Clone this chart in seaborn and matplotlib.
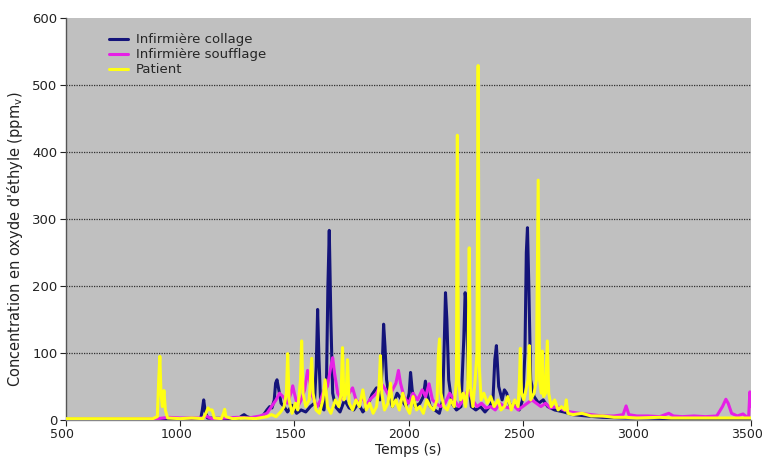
import matplotlib
matplotlib.use("Agg")
import matplotlib.pyplot as plt
import matplotlib.transforms as mtransforms
import seaborn as sns
import pandas as pd

# ---------------- data ----------------
collage_t = [500, 880, 1000, 1090, 1097, 1103, 1110, 1120, 1200, 1255, 1270, 1280, 1292, 1320, 1360, 1380,
             1392, 1402, 1412, 1418, 1424, 1432, 1442, 1455, 1470, 1490, 1510, 1530, 1550, 1570, 1588, 1596,
             1602, 1608, 1616, 1630, 1641, 1647, 1653, 1660, 1668, 1680, 1700, 1720, 1740, 1760, 1780, 1800,
             1820, 1840, 1860, 1875, 1885, 1891, 1897, 1904, 1915, 1930, 1950, 1970, 1990, 2003, 2009, 2016,
             2030, 2050, 2065, 2074, 2082, 2095, 2115, 2135, 2150, 2157, 2162, 2168, 2176, 2190, 2210, 2230,
             2242, 2248, 2254, 2262, 2275, 2295, 2315, 2335, 2355, 2370, 2378, 2385, 2395, 2410, 2420, 2430,
             2445, 2465, 2485, 2500, 2510, 2516, 2521, 2527, 2535, 2550, 2570, 2590, 2610, 2640, 2680, 2720,
             2780, 2850, 2950, 3050, 3150, 3250, 3350, 3450, 3500]
collage_v = [1, 1, 1, 2, 15, 30, 12, 3, 2, 2, 6, 8, 5, 2, 5, 15,
             20, 18, 30, 55, 60, 45, 25, 20, 12, 22, 10, 15, 12, 20, 25, 80,
             165, 90, 20, 15, 60, 200, 283, 150, 40, 20, 12, 30, 18, 15, 25, 12,
             20, 38, 48, 30, 80, 143, 110, 60, 35, 20, 40, 30, 20, 40, 71, 45,
             20, 25, 35, 58, 40, 20, 15, 10, 30, 120, 190, 150, 60, 25, 15, 20,
             120, 190, 170, 60, 20, 15, 20, 12, 20, 30, 90, 111, 50, 30, 45, 40,
             20, 25, 15, 30, 100, 250, 287, 200, 60, 35, 25, 30, 20, 15, 12, 8,
             6, 4, 3, 3, 2, 2, 1, 1, 1]

soufflage_t = [500, 900, 950, 1000, 1100, 1115, 1125, 1140, 1200, 1250, 1300, 1350, 1380, 1400, 1420, 1435,
               1450, 1470, 1485, 1493, 1500, 1515, 1530, 1545, 1558, 1566, 1580, 1600, 1615, 1630, 1645, 1660,
               1668, 1676, 1690, 1705, 1720, 1740, 1755, 1770, 1785, 1800, 1815, 1830, 1845, 1860, 1880, 1900,
               1915, 1930, 1945, 1956, 1965, 1980, 2000, 2020, 2040, 2060, 2075, 2090, 2105, 2120, 2140, 2160,
               2180, 2200, 2220, 2240, 2260, 2280, 2300, 2320, 2340, 2360, 2380, 2400, 2420, 2440, 2460, 2480,
               2500, 2520, 2540, 2560, 2580, 2600, 2620, 2650, 2680, 2710, 2750, 2800, 2850, 2900, 2940, 2953,
               2965, 3000, 3050, 3100, 3140, 3160, 3200, 3250, 3300, 3350, 3375, 3390, 3400, 3415, 3440, 3465,
               3480, 3490, 3495, 3500]
soufflage_v = [1, 2, 4, 3, 3, 6, 4, 2, 3, 4, 3, 6, 10, 20, 30, 40,
               35, 25, 40, 51, 40, 20, 30, 45, 74, 60, 35, 20, 30, 45, 50, 80,
               93, 70, 40, 30, 45, 40, 48, 30, 25, 35, 20, 30, 35, 40, 55, 45,
               35, 45, 55, 74, 55, 35, 25, 40, 30, 45, 35, 54, 30, 25, 20, 25,
               40, 30, 20, 30, 45, 30, 20, 25, 18, 20, 15, 25, 20, 18, 22, 15,
               20, 25, 30, 25, 20, 25, 18, 20, 15, 12, 10, 8, 6, 6, 8, 21,
               8, 6, 6, 5, 10, 6, 5, 6, 5, 6, 20, 31, 25, 10, 6, 9,
               5, 6, 42, 20]

patient_t = [500, 880, 900, 906, 911, 916, 922, 929, 935, 945, 1000, 1050, 1100, 1115, 1122, 1130,
             1140, 1150, 1180, 1190, 1195, 1200, 1230, 1280, 1330, 1380, 1400, 1420, 1440, 1455, 1465, 1471,
             1477, 1490, 1505, 1515, 1527, 1532, 1538, 1550, 1565, 1576, 1582, 1595, 1610, 1625, 1635, 1645,
             1660, 1680, 1695, 1705, 1711, 1717, 1727, 1733, 1740, 1755, 1770, 1785, 1800, 1815, 1830, 1845,
             1860, 1871, 1877, 1883, 1895, 1910, 1921, 1930, 1945, 1960, 1975, 1990, 2005, 2020, 2035, 2050,
             2065, 2080, 2095, 2110, 2125, 2131, 2136, 2142, 2155, 2170, 2185, 2200, 2210, 2214, 2219, 2228,
             2240, 2250, 2260, 2266, 2271, 2282, 2292, 2300, 2305, 2310, 2318, 2330, 2345, 2360, 2375, 2392,
             2405, 2420, 2435, 2450, 2465, 2480, 2486, 2490, 2495, 2505, 2524, 2529, 2535, 2550, 2560, 2568,
             2574, 2582, 2586, 2592, 2600, 2608, 2614, 2625, 2640, 2655, 2670, 2685, 2691, 2698, 2720, 2760,
             2800, 2850, 2900, 2950, 3000, 3100, 3150, 3200, 3250, 3300, 3400, 3500]
patient_v = [2, 2, 5, 60, 95, 40, 20, 44, 15, 3, 2, 3, 2, 12, 18, 15,
             15, 3, 2, 10, 16, 5, 2, 3, 2, 5, 8, 5, 12, 20, 40, 99,
             30, 10, 25, 15, 60, 118, 40, 20, 30, 92, 40, 15, 10, 30, 60, 20,
             10, 30, 20, 40, 108, 30, 40, 90, 25, 15, 30, 20, 45, 15, 25, 10,
             20, 50, 96, 40, 15, 25, 55, 20, 30, 15, 40, 20, 10, 35, 15, 20,
             10, 30, 20, 15, 30, 100, 121, 40, 20, 15, 30, 20, 60, 425, 60, 30,
             40, 20, 50, 257, 50, 20, 60, 100, 529, 80, 30, 40, 25, 35, 20, 30,
             15, 20, 35, 15, 30, 20, 60, 107, 40, 30, 60, 111, 30, 40, 60, 358,
             60, 40, 103, 35, 40, 118, 40, 20, 30, 15, 20, 15, 30, 10, 8, 10,
             6, 6, 4, 4, 3, 4, 3, 3, 3, 3, 3, 3]

series_names = ["Infirmière collage", "Infirmière soufflage", "Patient"]
series_colors = ["#14147a", "#e620e6", "#ffff14"]
y_ticks = [0, 100, 200, 300, 400, 500, 600]
x_ticks = [500, 1000, 1500, 2000, 2500, 3000, 3500]

frames = []
for name, t, v in zip(series_names, [collage_t, soufflage_t, patient_t],
                      [collage_v, soufflage_v, patient_v]):
    frames.append(pd.DataFrame({"Temps": t, "Conc": v, "Série": name}))
df = pd.concat(frames, ignore_index=True)

# ---------------- figure ----------------
sns.set_theme(style="white")
plt.rcParams["font.family"] = ["DejaVu Sans"]

fig = plt.figure(figsize=(7.62, 4.61), dpi=100)
ax = fig.add_axes([66 / 762, 1 - 420 / 461, 685 / 762, 402 / 461])
ax.set_facecolor("#c0c0c0")

for y in y_ticks[1:-1]:
    ax.axhline(y, color="#303030", lw=0.9, ls=(0, (1, 1)), zorder=1)

sns.lineplot(data=df, x="Temps", y="Conc", hue="Série", hue_order=series_names,
             palette=series_colors, estimator=None, lw=2.2, ax=ax, zorder=3)

ax.set_xlim(500, 3500)
ax.set_ylim(0, 600)
ax.set_xticks(x_ticks)
ax.set_yticks(y_ticks)
ax.tick_params(axis="both", colors="#222222", length=4, width=0.8,
               direction="out", left=True, bottom=True, pad=2)
ax.tick_params(axis="x", labelsize=9)
ax.tick_params(axis="y", labelsize=9.5)
shift = mtransforms.ScaledTranslation(-4 / 100, 0, fig.dpi_scale_trans)
for lab in ax.get_xticklabels():
    lab.set_transform(lab.get_transform() + shift)

for s in ["top", "right"]:
    ax.spines[s].set_visible(False)
ax.spines["left"].set_color("#555555")
ax.spines["bottom"].set_color("#888888")
ax.spines["left"].set_linewidth(1.0)
ax.spines["bottom"].set_linewidth(1.0)

ax.set_xlabel("Temps (s)", fontsize=10, color="#222222", labelpad=1)
ax.set_ylabel(r"Concentration en oxyde d'éthyle (ppm$_\mathregular{v}$)", fontsize=10.5,
              color="#222222")
ax.yaxis.set_label_coords(-0.06, 0.45)

leg = ax.legend(loc="upper left", bbox_to_anchor=(0.05, 0.985), frameon=False,
                fontsize=9.5, handlelength=1.4, handletextpad=0.6, labelspacing=0.15,
                borderpad=0.2)
for line in leg.get_lines():
    line.set_linewidth(2.2)

fig.savefig("out.png", dpi=100)
